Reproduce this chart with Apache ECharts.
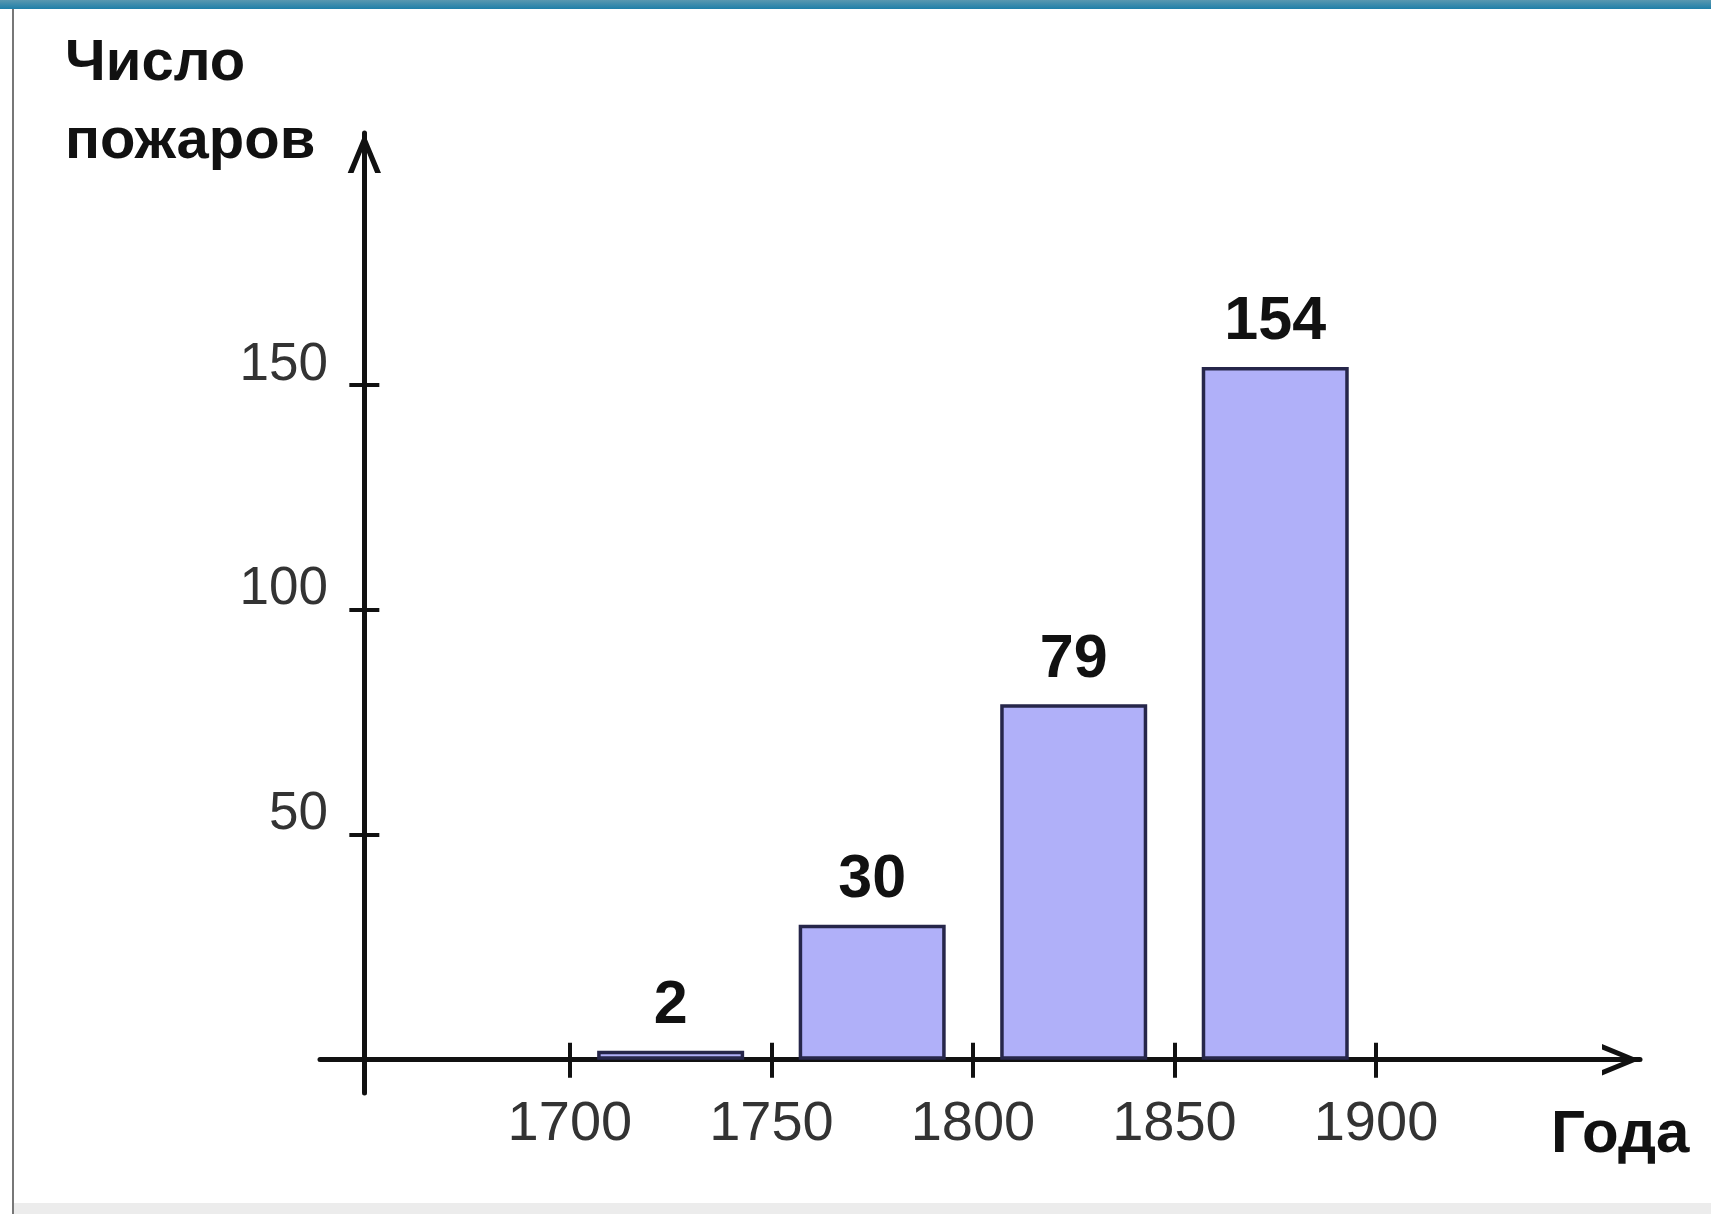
<!DOCTYPE html>
<html>
<head>
<meta charset="utf-8">
<script src="https://cdn.jsdelivr.net/npm/echarts@6/dist/echarts.min.js"></script>
<style>
html,body{margin:0;padding:0;background:#fff;}
#chart{width:1711px;height:1214px;}
</style>
</head>
<body>
<div id="chart"></div>
<script>
// ---- data ----
const periodStart = [1700, 1750, 1800, 1850];   // start year of each 50-year period
const periodLength = 50;
const fires = [2, 30, 79, 154];                  // число пожаров
const xTickYears = [1700, 1750, 1800, 1850, 1900];
const yTicks = [50, 100, 150];
const yTitle = 'Число\nпожаров';
const xTitle = 'Года';

// year where the vertical axis crosses the horizontal axis
const originYear = 1649;

const barData = periodStart.map((s, i) => [s + periodLength / 2 - originYear, fires[i]]);
const xTickVals = xTickYears.map(y => y - originYear);

const chart = echarts.init(document.getElementById('chart'), null, {renderer: 'canvas'});

const FONT = 'Liberation Sans, Arial, sans-serif';
const chevron = 'path://M10,0 L20,24 L16.5,24 L10,8 L3.5,24 L0,24 Z';

const xRange = {min: -11, max: 316.5};
const yRange = {min: -7.4, max: 206};

const option = {
  backgroundColor: '#ffffff',
  animation: false,
  title: [
    {
      text: yTitle, left: 60, top: 20,
      textStyle: {fontFamily: FONT, fontSize: 58, fontWeight: 'bold', color: '#111', lineHeight: 78}
    },
    {
      text: xTitle, left: 1546, top: 1100,
      textStyle: {fontFamily: FONT, fontSize: 60, fontWeight: 'bold', color: '#111'}
    }
  ],
  grid: {left: 320, top: 133, width: 1320, height: 960, containLabel: false},
  xAxis: [
    {
      type: 'value', min: xRange.min, max: xRange.max, position: 'bottom',
      splitLine: {show: false},
      axisLine: {show: true, onZero: true, lineStyle: {color: '#111', width: 5},
        symbol: ['none', chevron], symbolSize: [34, 38], symbolOffset: [0, -19]},
      axisTick: {show: true, inside: false, length: 18, lineStyle: {color: '#111', width: 4},
        customValues: xTickVals},
      axisLabel: {show: true, customValues: xTickVals, margin: 4,
        formatter: v => String(v + originYear),
        fontFamily: FONT, fontSize: 56, color: '#333'}
    },
    {
      type: 'value', min: xRange.min, max: xRange.max, position: 'bottom',
      splitLine: {show: false},
      axisLine: {show: false, onZero: true},
      axisTick: {show: true, inside: true, length: 17, lineStyle: {color: '#111', width: 4},
        customValues: xTickVals},
      axisLabel: {show: false}
    }
  ],
  yAxis: [
    {
      type: 'value', min: yRange.min, max: yRange.max, position: 'left',
      splitLine: {show: false},
      axisLine: {show: true, onZero: true, lineStyle: {color: '#111', width: 5},
        symbol: ['none', chevron], symbolSize: [34, 40], symbolOffset: [0, -20]},
      axisTick: {show: true, inside: false, length: 15, lineStyle: {color: '#111', width: 4},
        customValues: yTicks},
      axisLabel: {show: true, customValues: yTicks, margin: -8,
        verticalAlign: 'bottom', lineHeight: 40,
        fontFamily: FONT, fontSize: 53, color: '#333'}
    },
    {
      type: 'value', min: yRange.min, max: yRange.max, position: 'left',
      splitLine: {show: false},
      axisLine: {show: false, onZero: true},
      axisTick: {show: true, inside: true, length: 15, lineStyle: {color: '#111', width: 4},
        customValues: yTicks},
      axisLabel: {show: false}
    }
  ],
  series: [
    {
      type: 'bar',
      xAxisIndex: 0, yAxisIndex: 0,
      data: barData,
      barWidth: 147,
      itemStyle: {color: '#b0b0f9', borderColor: '#26264a', borderWidth: 3.5},
      label: {show: true, position: 'top', distance: 14,
        formatter: p => String(p.value[1]),
        fontFamily: FONT, fontSize: 61, fontWeight: 'bold', color: '#111'},
      z: 1
    }
  ],
  graphic: [
    {type: 'rect', left: 0, top: 0, z: 100, shape: {width: 1711, height: 9},
      style: {fill: new echarts.graphic.LinearGradient(0, 0, 0, 1, [
        {offset: 0, color: '#5a98b0'}, {offset: 1, color: '#1f7fa8'}])}},
    {type: 'rect', left: 12, top: 9, z: 100, shape: {width: 2, height: 1205},
      style: {fill: '#777'}},
    {type: 'rect', left: 14, top: 1203, z: 100, shape: {width: 1697, height: 11},
      style: {fill: '#ececec'}}
  ]
};

chart.setOption(option);
</script>
</body>
</html>
